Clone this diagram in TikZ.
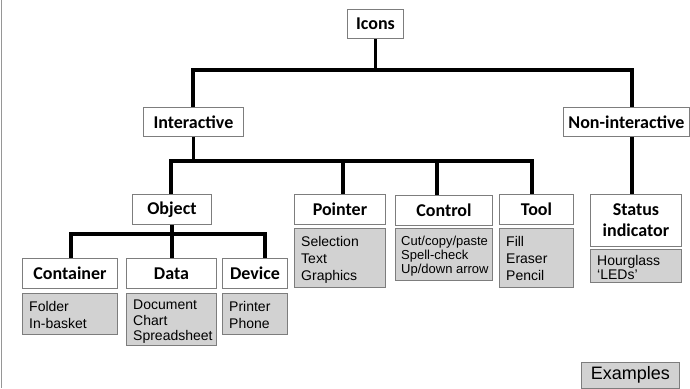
\documentclass[tikz,border=0pt]{standalone}
\usepackage{fontspec}
\setmainfont{Liberation Sans}
\newfontfamily\headfont{Carlito}
\definecolor{boxgray}{RGB}{210,210,210}
\definecolor{boxline}{RGB}{125,125,125}
\definecolor{edgeline}{RGB}{150,150,150}
\tikzset{
  head/.style={draw=boxline, fill=white, line width=0.9pt, inner sep=0pt,
    anchor=north west, align=center,
    font=\headfont\bfseries\fontsize{18}{21}\selectfont},
  exbox/.style={draw=boxline, fill=boxgray, line width=0.9pt, inner sep=0pt,
    anchor=north west},
  extext/.style={inner sep=0pt, anchor=north west, align=left,
    font=\fontsize{14}{17}\selectfont},
  smalltext/.style={extext, font=\fontsize{13}{14}\selectfont},
  tighttext/.style={extext, font=\fontsize{14}{14.5}\selectfont},
  conn/.style={line width=3.1pt, black}
}
\begin{document}
\begin{tikzpicture}[x=1pt, y=-1pt]
\useasboundingbox (0,0) rectangle (690,388);

% thin rule along the left edge
\coordinate (lt) at (1.5,0);
\coordinate (lb) at (1.5,388);
\draw[edgeline, line width=1.4pt] (lt) -- (lb);

% bus coordinates of the tree
\coordinate (t1) at (193,70);
\coordinate (t2) at (632,70);
\coordinate (m1) at (171,161);
\coordinate (mp) at (343,161);
\coordinate (mc) at (437,161);
\coordinate (m2) at (532,161);
\coordinate (b1) at (71,234);
\coordinate (b2) at (265,234);

% category boxes
\node[head, minimum width=56pt, minimum height=29pt] (icons) at (347,9) {Icons};
\node[head, minimum width=100pt, minimum height=29pt] (inter) at (143,107) {Interactive};
\node[head, minimum width=126pt, minimum height=29pt] (nonint) at (563,107) {Non-interactive};
\node[head, minimum width=79pt, minimum height=30pt] (object) at (132,194) {Object};
\node[head, minimum width=91pt, minimum height=30pt] (pointer) at (294,194) {Pointer};
\node[head, minimum width=97pt, minimum height=30pt] (control) at (395,195) {Control};
\node[head, minimum width=74pt, minimum height=30pt] (tool) at (499,194) {Tool};
\node[head, minimum width=91pt, minimum height=52pt] (status) at (590,194) {Status\\indicator};
\node[head, minimum width=95pt, minimum height=30pt] (container) at (22,258) {Container};
\node[head, minimum width=90pt, minimum height=30pt] (data) at (126,258) {Data};
\node[head, minimum width=65pt, minimum height=30pt] (device) at (222,258) {Device};

% example boxes
\node[exbox, minimum width=91pt, minimum height=59pt] (pointerex) at (294,228) {};
\node[extext] at ([shift={(7,8)}]pointerex.north west) {Selection\\Text\\Graphics};
\node[exbox, minimum width=97pt, minimum height=52pt] (controlex) at (395,228) {};
\node[smalltext] at ([shift={(6,8)}]controlex.north west) {Cut/copy/paste\\Spell-check\\Up/down arrow};
\node[exbox, minimum width=74pt, minimum height=59pt] (toolex) at (499,228) {};
\node[extext] at ([shift={(7,8)}]toolex.north west) {Fill\\Eraser\\Pencil};
\node[exbox, minimum width=91pt, minimum height=33pt] (statusex) at (590,249) {};
\node[tighttext] at ([shift={(7,6)}]statusex.north west) {Hourglass\\`LEDs'};
\node[exbox, minimum width=95pt, minimum height=41pt] (containerex) at (22,293) {};
\node[extext] at ([shift={(7,8)}]containerex.north west) {Folder\\In-basket};
\node[exbox, minimum width=90pt, minimum height=52pt] (dataex) at (126,293) {};
\node[extext, font=\fontsize{14}{15.5}\selectfont] at ([shift={(7,7)}]dataex.north west) {Document\\Chart\\Spreadsheet};
\node[exbox, minimum width=65pt, minimum height=41pt] (deviceex) at (222,293) {};
\node[extext] at ([shift={(7,8)}]deviceex.north west) {Printer\\Phone};

% legend
\node[exbox, minimum width=98pt, minimum height=26pt, font=\fontsize{18}{20}\selectfont] (legend) at (581,361.5) {Examples};

% connectors
\draw[conn] (icons.south) -- (icons.south |- t1);
\draw[conn] (t1 |- inter.north) -- (t1) -- (t2) -- (t2 |- nonint.north);
\draw[conn] (t2 |- nonint.south) -- (t2 |- status.north);
\draw[conn] (inter.south) -- (inter.south |- m1);
\draw[conn] (m1 |- object.north) -- (m1) -- (m2) -- (m2 |- tool.north);
\draw[conn] (mp) -- (mp |- pointer.north);
\draw[conn] (mc) -- (mc |- control.north);
\draw[conn] (object.south) -- (object.south |- data.north);
\draw[conn] (b1 |- container.north) -- (b1) -- (b2) -- (b2 |- device.north);
\end{tikzpicture}
\end{document}
